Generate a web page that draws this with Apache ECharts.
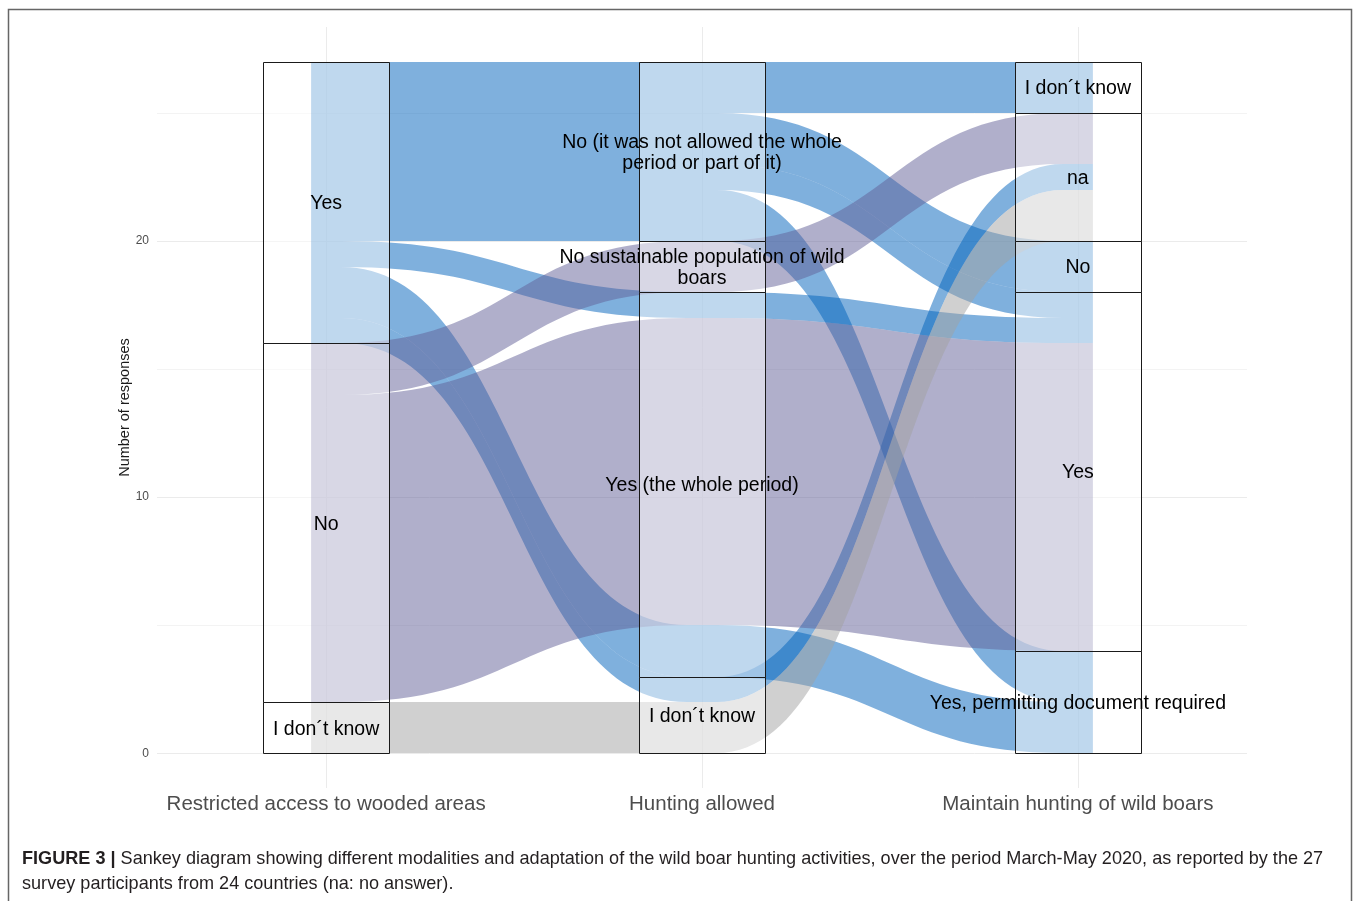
<!DOCTYPE html>
<html><head><meta charset="utf-8">
<script src="https://cdn.jsdelivr.net/npm/echarts@6/dist/echarts.min.js"></script>
<style>html,body{margin:0;padding:0;background:#fff}#chart{width:1358px;height:901px}</style>
</head><body><div id="chart"></div>
<script>
// ---- data ----
const axisNames = ['Restricted access to wooded areas', 'Hunting allowed', 'Maintain hunting of wild boars'];
// strata of each axis, listed bottom to top
const strataAxis1 = ['I don´t know', 'No', 'Yes'];
const strataAxis2 = ['I don´t know', 'Yes (the whole period)', 'No sustainable population of wild boars', 'No (it was not allowed the whole period or part of it)'];
const strataAxis3 = ['Yes, permitting document required', 'Yes', 'No', 'na', 'I don´t know'];
// one entry per alluvium (combination of answers) and its number of responses
const answers1 = ['Yes', 'Yes', 'Yes', 'Yes', 'Yes', 'Yes', 'Yes', 'No', 'No', 'I don´t know'];
const answers2 = ['No (it was not allowed the whole period or part of it)', 'No (it was not allowed the whole period or part of it)', 'No (it was not allowed the whole period or part of it)', 'No (it was not allowed the whole period or part of it)', 'Yes (the whole period)', 'Yes (the whole period)', 'I don´t know', 'No sustainable population of wild boars', 'Yes (the whole period)', 'I don´t know'];
const answers3 = ['I don´t know', 'No', 'Yes', 'Yes, permitting document required', 'Yes', 'Yes, permitting document required', 'na', 'na', 'Yes', 'na'];
const counts = [2, 2, 1, 2, 1, 2, 1, 2, 12, 2];
const yTicks = [0, 10, 20];
const yGrid = [0, 5, 10, 15, 20, 25];
const captionBold = 'FIGURE 3 |';
const captionLine1 = ' Sankey diagram showing different modalities and adaptation of the wild boar hunting activities, over the period March-May 2020, as reported by the 27';
const captionLine2 = 'survey participants from 24 countries (na: no answer).';

// ---- styles ----
const colourByAnswer1 = {'Yes': 'rgba(0,97,188,0.5)', 'No': 'rgba(98,96,152,0.5)', 'I don´t know': 'rgba(162,162,162,0.5)'};
const wrapLabel = {
  'No (it was not allowed the whole period or part of it)': 'No (it was not allowed the whole\nperiod or part of it)',
  'No sustainable population of wild boars': 'No sustainable population of wild\nboars'
};
const FONT = '"Liberation Sans", Arial, sans-serif';
const LODE_HALF = 0.04, STRATUM_HALF = 1 / 6;

// ---- layout (stacking, zigzag lode ordering) ----
const strata = [strataAxis1, strataAxis2, strataAxis3];
const answers = [answers1, answers2, answers3];
const nA = counts.length;
const rank = (k, i) => strata[k].indexOf(answers[k][i]);
const sortKeys = [[1, 2], [2, 0], [1, 0]];
const lodes = answers.map(() => new Array(nA));
const strataBoxes = [];
for (let k = 0; k < 3; k++) {
  let base = 0;
  strata[k].forEach((s, j) => {
    const members = [];
    for (let i = 0; i < nA; i++) if (rank(k, i) === j) members.push(i);
    members.sort((a, b) => {
      for (const kk of sortKeys[k]) { const d = rank(kk, a) - rank(kk, b); if (d) return d; }
      return a - b;
    });
    const start = base;
    members.forEach(i => { lodes[k][i] = [base, base + counts[i]]; base += counts[i]; });
    strataBoxes.push([k + 1, start, base, s]);
  });
}

const chart = echarts.init(document.getElementById('chart'), null, {renderer: 'canvas'});

function alluviumPath(api, i) {
  function edge(side) {
    const segs = [];
    for (let k = 0; k < 3; k++) {
      const y = lodes[k][i][side];
      const a = api.coord([k + 1 - LODE_HALF, y]);
      const b = api.coord([k + 1 + LODE_HALF, y]);
      const py = Math.round(a[1]);
      segs.push([a[0], py]);
      segs.push([b[0], py]);
    }
    return segs;
  }
  const top = edge(1), bot = edge(0);
  let d = 'M' + top[0][0] + ' ' + top[0][1] + ' L' + top[1][0] + ' ' + top[1][1];
  for (let k = 1; k < 3; k++) {
    const a = top[2 * k - 1], b = top[2 * k];
    const mx = (a[0] + b[0]) / 2;
    d += ' C' + mx + ' ' + a[1] + ' ' + mx + ' ' + b[1] + ' ' + b[0] + ' ' + b[1];
    d += ' L' + top[2 * k + 1][0] + ' ' + top[2 * k + 1][1];
  }
  d += ' L' + bot[5][0] + ' ' + bot[5][1] + ' L' + bot[4][0] + ' ' + bot[4][1];
  for (let k = 2; k >= 1; k--) {
    const a = bot[2 * k], b = bot[2 * k - 1];
    const mx = (a[0] + b[0]) / 2;
    d += ' C' + mx + ' ' + a[1] + ' ' + mx + ' ' + b[1] + ' ' + b[0] + ' ' + b[1];
    d += ' L' + bot[2 * k - 2][0] + ' ' + bot[2 * k - 2][1];
  }
  return d + ' Z';
}

const option = {
  backgroundColor: '#fff',
  animation: false,
  grid: {left: 157, right: 111, top: 27, bottom: 113, containLabel: false},
  xAxis: {
    type: 'value', min: 0.55, max: 3.45,
    axisLine: {show: false},
    axisTick: {show: false, customValues: [1, 2, 3]},
    axisLabel: {customValues: [1, 2, 3], formatter: v => axisNames[Math.round(v) - 1] || '', color: '#4d4d4d', fontSize: 20.5, fontFamily: FONT, margin: 6},
    splitLine: {show: true, lineStyle: {color: '#ebebeb', width: 1}}
  },
  yAxis: {
    type: 'value', min: -1.35, max: 28.35,
    name: 'Number of responses', nameLocation: 'middle', nameGap: 25, nameMoveOverlap: false,
    nameTextStyle: {color: '#1a1a1a', fontSize: 14.5, fontFamily: FONT},
    axisLine: {show: false},
    axisTick: {show: false, customValues: yGrid},
    axisLabel: {customValues: yTicks, color: '#4d4d4d', fontSize: 12, fontFamily: FONT, margin: 8},
    splitLine: {show: true, lineStyle: {color: ['#ebebeb', '#f3f3f3'], width: 1}}
  },
  series: [
    {
      type: 'custom', name: 'alluvia', coordinateSystem: 'cartesian2d', silent: true, z: 2,
      data: counts.map((v, i) => [i, v]),
      renderItem: (params, api) => {
        const i = params.dataIndex;
        return {type: 'path', shape: {pathData: alluviumPath(api, i)}, style: {fill: colourByAnswer1[answers1[i]], stroke: null}};
      }
    },
    {
      type: 'custom', name: 'strata', coordinateSystem: 'cartesian2d', silent: true, z: 3,
      data: strataBoxes,
      renderItem: (params, api) => {
        const [x, y0, y1] = [api.value(0), api.value(1), api.value(2)];
        const name = strataBoxes[params.dataIndex][3];
        const p0 = api.coord([x - STRATUM_HALF, y1]);
        const p1 = api.coord([x + STRATUM_HALF, y0]);
        const mid = api.coord([x, (y0 + y1) / 2]);
        const t = Math.round(p0[1]) + 0.5, b = Math.round(p1[1]) + 0.5;
        const l = Math.round(p0[0]) + 0.5, r = Math.round(p1[0]) + 0.5;
        return {
          type: 'group',
          children: [
            {type: 'rect', shape: {x: l, y: t, width: r - l, height: b - t},
             style: {fill: 'rgba(255,255,255,0.5)', stroke: '#1a1a1a', lineWidth: 1}},
            {type: 'text', x: mid[0], y: mid[1] + 1.5, z2: 10,
             style: {text: wrapLabel[name] || name, fill: '#000', fontSize: 19.5, fontFamily: FONT, align: 'center', verticalAlign: 'middle', lineHeight: 21}}
          ]
        };
      }
    }
  ],
  graphic: [
    {type: 'rect', left: 6, top: 7, shape: {x: 0, y: 0, width: 1343, height: 905}, style: {fill: null, stroke: '#666', lineWidth: 1.5}, silent: true},
    {type: 'text', left: 22, top: 850, style: {
      text: '{b|' + captionBold + '}{n|' + captionLine1 + '}\n{n|' + captionLine2 + '}',
      rich: {b: {fontWeight: 'bold', fontSize: 18.1, fontFamily: FONT, fill: '#231f20', lineHeight: 25}, n: {fontSize: 18.1, fontFamily: FONT, fill: '#231f20', lineHeight: 25}}
    }}
  ]
};
chart.setOption(option);
</script></body></html>
